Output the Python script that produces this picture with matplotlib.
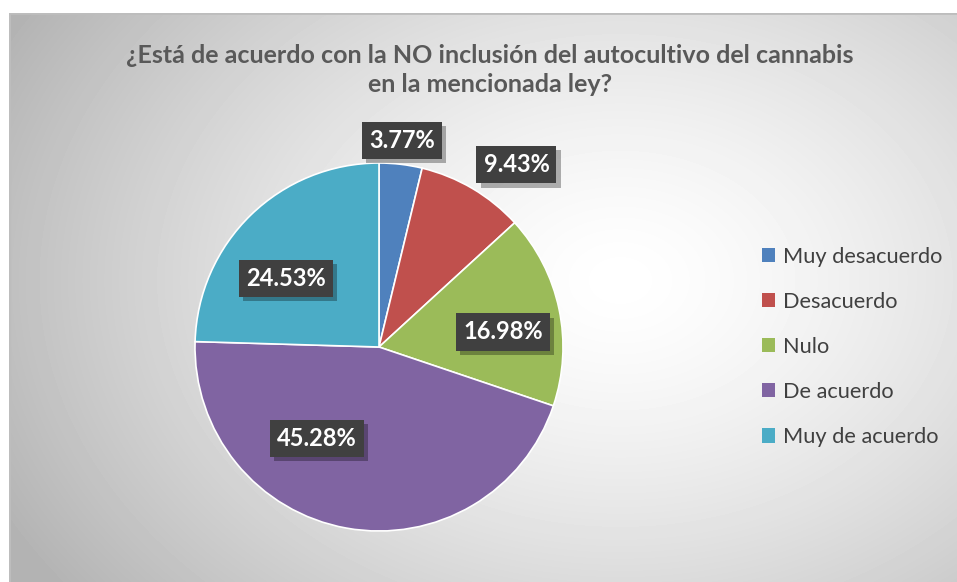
import numpy as np
import matplotlib.pyplot as plt
from matplotlib.patches import Patch
import matplotlib.patheffects as pe

# data
categories = ["Muy desacuerdo", "Desacuerdo", "Nulo", "De acuerdo", "Muy de acuerdo"]
percent = [3.77, 9.43, 16.98, 45.28, 24.53]
labels = ["3.77%", "9.43%", "16.98%", "45.28%", "24.53%"]
colors = ["#4F81BD", "#C0504D", "#9BBB59", "#8064A2", "#4BACC6"]
title = "¿Está de acuerdo con la NO inclusión del autocultivo del cannabis\nen la mencionada ley?"

# label placement: radius factor and angle shift (deg) relative to wedge middle
label_r = [1.13, 1.24, 0.68, 0.60, 0.63]
label_shift = [0.5, -6.5, -5.0, -24.0, 9.5]

W, H = 957, 582
fig = plt.figure(figsize=(W / 100, H / 100), dpi=100)
fig.patch.set_facecolor("white")

# chart area background: soft radial gradient
x0, y0 = 9, 13
bg = fig.add_axes([x0 / W, 0, 1 - x0 / W, 1 - y0 / H])
bg.set_axis_off()
xx, yy = np.meshgrid(np.arange(x0, W), np.arange(y0, H))
d = np.sqrt(((xx - 620) / 580.0) ** 2 + ((yy - 280) / 430.0) ** 2)
g = 1.0 - 0.23 * np.clip(d, 0, 1.2) ** 1.4
bg.imshow(g, cmap="gray", vmin=0, vmax=1, aspect="auto", interpolation="bilinear")
bg.axhline(-0.5, color="#bdbdbd", lw=2)
bg.axvline(-0.5, color="#bdbdbd", lw=3)

# pie
cx, cy, R = 379, 347, 184
ax = fig.add_axes([(cx - R) / W, 1 - (cy + R) / H, 2 * R / W, 2 * R / H])
wedges, _ = ax.pie(percent, colors=colors, startangle=90, counterclock=False,
                   wedgeprops=dict(edgecolor="white", linewidth=1.2))
ax.set_xlim(-1, 1)
ax.set_ylim(-1, 1)
ax.set_aspect("equal")
ax.set_axis_off()

cum = np.cumsum([0] + percent)
for i, lab in enumerate(labels):
    mid = 90 - (cum[i] + percent[i] / 2) * 3.6 + label_shift[i]
    tx = label_r[i] * np.cos(np.radians(mid))
    ty = label_r[i] * np.sin(np.radians(mid))
    t = ax.text(tx, ty, lab, ha="center", va="center", fontsize=17,
                fontweight="bold", family="Lato", color="white",
                bbox=dict(boxstyle="square,pad=0.3", fc="#404040", ec="none"),
                clip_on=False)
    t.get_bbox_patch().set_path_effects(
        [pe.SimplePatchShadow(offset=(3, -3), shadow_rgbFace="black", alpha=0.3), pe.Normal()])

fig.text(490 / W, 1 - 70 / H, title, ha="center", va="center", fontsize=18,
         fontweight="bold", family="Lato", color="#595959", linespacing=1.3)

handles = [Patch(facecolor=c, edgecolor="none") for c in colors]
fig.legend(handles, categories, loc="center left",
           bbox_to_anchor=(742 / W, 1 - 347 / H), frameon=False,
           labelspacing=1.15, handlelength=0.62, handleheight=0.62,
           handletextpad=0.35, labelcolor="#404040", prop=dict(family="Lato", size=15.7))

fig.savefig("out.png", dpi=100)
